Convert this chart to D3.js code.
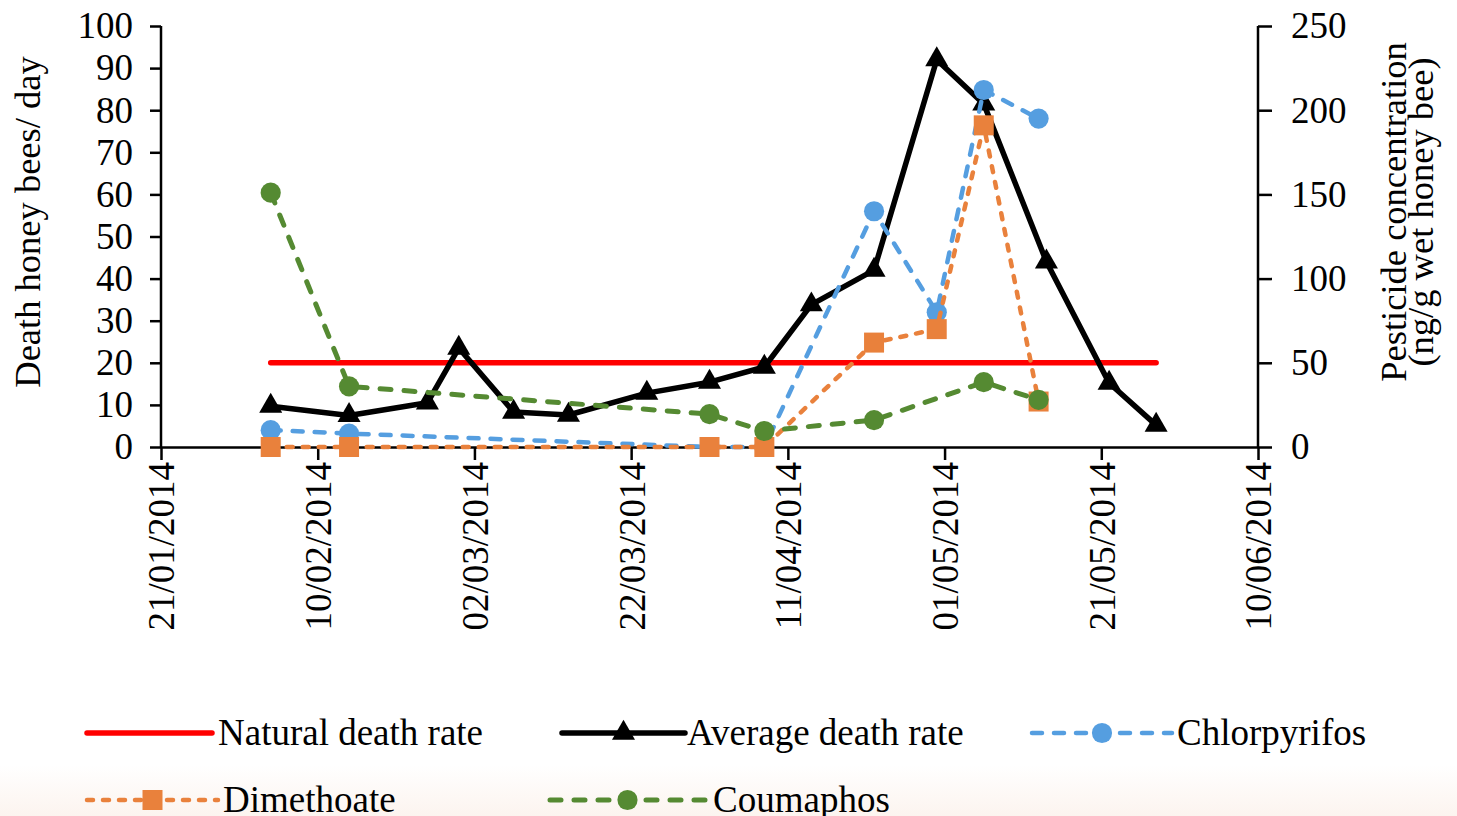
<!DOCTYPE html>
<html lang="en">
<head>
  <meta charset="UTF-8" />
  <title>Honey bee deaths and pesticide concentration</title>
  <script src="https://d3js.org/d3.v7.min.js"></script>
  <style>
    body {
      margin: 0;
      background: #fff;
    }
    svg text {
      font-family: "Liberation Serif", "DejaVu Serif", serif;
      fill: #000;
    }
    .axis path, .axis line {
      stroke: #000;
      stroke-width: 2.5;
    }
    .axis text {
      font-family: "Liberation Serif", "DejaVu Serif", serif;
      font-size: 37px;
    }
    .title {
      font-size: 36.5px;
    }
    .legend-label {
      font-size: 37px;
    }
  </style>
</head>
<body>

<svg width="1457" height="816"></svg>

<script>
  // dates of the daily death counts
  const deathDates = ["04/02/2014", "14/02/2014", "24/02/2014", "28/02/2014", "07/03/2014",
                      "14/03/2014", "24/03/2014", "01/04/2014", "08/04/2014", "14/04/2014",
                      "22/04/2014", "30/04/2014", "06/05/2014", "14/05/2014", "22/05/2014",
                      "28/05/2014"];
  const averageDeath = [9.7, 7.5, 10.5, 23.5, 8.3, 7.6, 12.8, 15.4, 19, 33.8,
                        42, 92, 81.5, 44, 15.2, 5.2];

  const naturalDates = ["04/02/2014", "28/05/2014"];
  const naturalDeath = [20, 20];

  // pesticide samples (ng/g wet honey bee), right axis
  const sampleDates = ["04/02/2014", "14/02/2014", "01/04/2014", "08/04/2014",
                       "22/04/2014", "30/04/2014", "06/05/2014", "13/05/2014"];
  const chlorpyrifos = [10, 8, 0, 0, 140, 80, 212, 195];
  const dimethoate   = [0, 0, 0, 0, 62, 70, 191, 27];
  const coumaphos    = [151, 36, 19.5, 9.5, 16, null, 38.5, 28];

  const xTickLabels = ["21/01/2014", "10/02/2014", "02/03/2014", "22/03/2014",
                       "11/04/2014", "01/05/2014", "21/05/2014", "10/06/2014"];
  const leftTicks = [0, 10, 20, 30, 40, 50, 60, 70, 80, 90, 100];
  const rightTicks = [0, 50, 100, 150, 200, 250];

  const parse = d3.utcParse("%d/%m/%Y"),
        fmt = d3.utcFormat("%d/%m/%Y");

  const svg = d3.select("svg");

  // faint warm tint along the bottom edge
  const grad = svg.append("defs").append("linearGradient")
    .attr("id", "bottomTint").attr("x1", 0).attr("y1", 0).attr("x2", 0).attr("y2", 1);
  grad.append("stop").attr("offset", "0").attr("stop-color", "#ffffff");
  grad.append("stop").attr("offset", "1").attr("stop-color", "#fcf4ef");
  svg.append("rect").attr("x", 0).attr("y", 765).attr("width", 1457).attr("height", 51)
    .attr("fill", "url(#bottomTint)");

  const x = d3.scaleUtc()
    .domain([parse(xTickLabels[0]), parse(xTickLabels[xTickLabels.length - 1])])
    .range([161, 1258]);
  const yL = d3.scaleLinear().domain([0, 100]).range([447, 26]);
  const yR = d3.scaleLinear().domain([0, 250]).range([447, 26]);

  const serif = "'Liberation Serif', 'DejaVu Serif', serif";

  // axes
  svg.append("g").attr("class", "axis")
    .attr("transform", "translate(161,0)")
    .call(d3.axisLeft(yL).tickValues(leftTicks).tickSize(11).tickSizeOuter(0).tickPadding(17))
    .attr("font-family", serif)
    .call(g => g.select(".domain").attr("d", "M0,26V447"));

  svg.append("g").attr("class", "axis")
    .attr("transform", "translate(1258,0)")
    .call(d3.axisRight(yR).tickValues(rightTicks).tickSize(14).tickSizeOuter(0).tickPadding(19))
    .attr("font-family", serif)
    .call(g => g.select(".domain").attr("d", "M0,26V447"));

  svg.append("g").attr("class", "axis")
    .attr("transform", "translate(0,447)")
    .call(d3.axisBottom(x).tickValues(xTickLabels.map(parse)).tickFormat(fmt)
      .tickSize(13).tickSizeOuter(0))
    .attr("font-family", serif)
    .call(g => g.selectAll("text")
      .attr("transform", "rotate(-90)")
      .attr("text-anchor", "end")
      .attr("x", -15)
      .attr("y", 0)
      .attr("dy", "0.35em"));

  // axis titles
  svg.append("text").attr("class", "title")
    .attr("transform", "translate(40,222) rotate(-90)")
    .attr("text-anchor", "middle")
    .text("Death honey bees/ day");

  svg.append("text").attr("class", "title")
    .attr("transform", "translate(1406,212) rotate(-90)")
    .attr("text-anchor", "middle")
    .text("Pesticide concentration");
  svg.append("text").attr("class", "title")
    .attr("transform", "translate(1433,212) rotate(-90)")
    .attr("text-anchor", "middle")
    .text("(ng/g wet honey bee)");

  const series = [
    {name: "Natural death rate", dates: naturalDates, values: naturalDeath, y: yL,
     color: "#ff0000", width: 5.5, dash: null, symbol: null},
    {name: "Average death rate", dates: deathDates, values: averageDeath, y: yL,
     color: "#000000", width: 5.5, dash: null, symbol: d3.symbolTriangle, size: 230},
    {name: "Chlorpyrifos", dates: sampleDates, values: chlorpyrifos, y: yR,
     color: "#559ee0", width: 4.5, dash: "10,12", symbol: d3.symbolCircle, size: 320},
    {name: "Dimethoate", dates: sampleDates, values: dimethoate, y: yR,
     color: "#e9813c", width: 4.5, dash: "6,10", symbol: d3.symbolSquare, size: 400},
    {name: "Coumaphos", dates: sampleDates, values: coumaphos, y: yR,
     color: "#558a32", width: 5, dash: "11,13", symbol: d3.symbolCircle, size: 320}
  ];

  series.forEach(s => {
    const pts = s.dates.map((d, i) => ({date: parse(d), v: s.values[i]}))
      .filter(p => p.v !== null);

    const line = d3.line().x(p => x(p.date)).y(p => s.y(p.v));

    svg.append("path")
      .datum(pts)
      .attr("fill", "none")
      .attr("stroke", s.color)
      .attr("stroke-width", s.width)
      .attr("stroke-linecap", "round")
      .attr("stroke-linejoin", "round")
      .attr("stroke-dasharray", s.dash)
      .attr("d", line);

    if (s.symbol) {
      svg.selectAll(null)
        .data(pts)
        .join("path")
        .attr("transform", p => `translate(${x(p.date)},${s.y(p.v)})`)
        .attr("fill", s.color)
        .attr("d", d3.symbol(s.symbol, s.size));
    }
  });

  // legend
  const legendPos = [
    {x0: 87, x1: 212, y: 733, tx: 218},
    {x0: 562, x1: 685, y: 733, tx: 687},
    {x0: 1032, x1: 1172, y: 733, tx: 1177},
    {x0: 87, x1: 218, y: 800, tx: 223},
    {x0: 550, x1: 705, y: 800, tx: 713}
  ];

  series.forEach((s, i) => {
    const p = legendPos[i];
    const lg = svg.append("g");
    lg.append("line")
      .attr("x1", p.x0).attr("x2", p.x1).attr("y1", p.y).attr("y2", p.y)
      .attr("stroke", s.color)
      .attr("stroke-width", s.width)
      .attr("stroke-linecap", "round")
      .attr("stroke-dasharray", s.dash);
    if (s.symbol) {
      lg.append("path")
        .attr("transform", `translate(${(p.x0 + p.x1) / 2},${p.y})`)
        .attr("fill", s.color)
        .attr("d", d3.symbol(s.symbol, s.size));
    }
    lg.append("text")
      .attr("class", "legend-label")
      .attr("x", p.tx)
      .attr("y", p.y + 12)
      .text(s.name);
  });
</script>

</body>
</html>
